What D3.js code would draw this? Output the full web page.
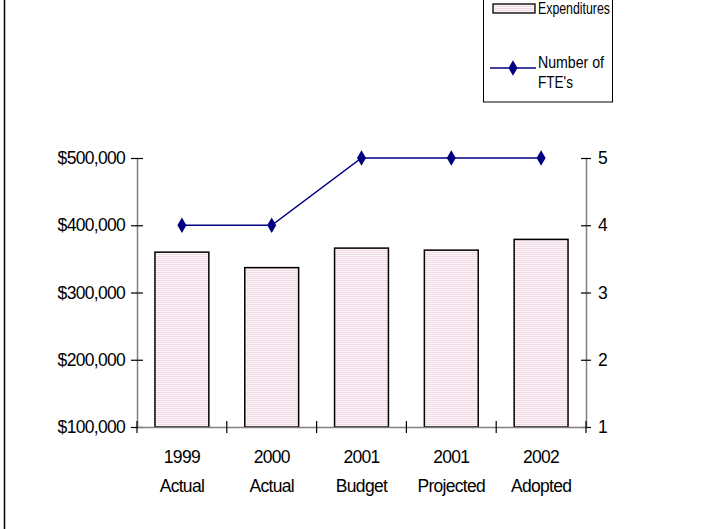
<!DOCTYPE html>
<html><head><meta charset="utf-8">
<script src="https://cdn.jsdelivr.net/npm/d3@7"></script>
<style>body{margin:0;background:#fff}svg{display:block}text{font-family:"Liberation Sans",Arial,sans-serif}</style>
</head><body><svg id="c" width="707" height="529"></svg>
<script>
const categories = ["1999|Actual","2000|Actual","2001|Budget","2001|Projected","2002|Adopted"];
const expenditures = [360000, 337000, 366000, 363000, 379000];
const ftes = [4, 4, 5, 5, 5];
const leftTicks = [100000, 200000, 300000, 400000, 500000];
const rightTicks = [1, 2, 3, 4, 5];

const svg = d3.select("#c");
const defs = svg.append("defs");
const pat = defs.append("pattern").attr("id","hatch").attr("patternUnits","userSpaceOnUse").attr("width",4).attr("height",2);
pat.append("rect").attr("width",4).attr("height",2).attr("fill","#fdf7fa");
pat.append("rect").attr("width",4).attr("height",1).attr("fill","#f0d8e4");

// outer frame
svg.append("rect").attr("x",4.5).attr("y",-10).attr("width",800).attr("height",600).attr("fill","none").attr("stroke","#000").attr("stroke-width",1.5);

const x0 = 137, x1 = 586, yTop = 158, yBot = 427;
const x = d3.scaleBand().domain(categories).range([x0, x1]).paddingInner(0.4).paddingOuter(0.2);
const xc = d3.scaleBand().domain(categories).range([x0, x1]);
const yL = d3.scaleLinear().domain([100000, 500000]).range([yBot, yTop]);
const yR = d3.scaleLinear().domain([1, 5]).range([yBot, yTop]);

// bars
svg.append("g").selectAll("rect").data(categories).join("rect")
  .attr("x", d => x(d)).attr("width", x.bandwidth())
  .attr("y", (d,i) => yL(expenditures[i])).attr("height", (d,i) => yBot - yL(expenditures[i]))
  .attr("fill","url(#hatch)").attr("stroke","#000").attr("stroke-width",1.5);

const fs = 17.5, ls = -0.7;
// left axis
const gL = svg.append("g").attr("transform",`translate(${x0},0)`)
  .call(d3.axisLeft(yL).tickValues(leftTicks).tickSize(0).tickPadding(12).tickFormat(d => "$" + d3.format(",")(d)));
gL.select(".domain").attr("stroke","#808080").attr("stroke-width",1.5);
gL.selectAll(".tick").append("line").attr("x1",-6).attr("x2",6).attr("stroke","#000").attr("stroke-width",1.2);
gL.selectAll("text").attr("font-size",fs).attr("letter-spacing",ls).attr("fill","#000").attr("font-family","Liberation Sans, Arial, sans-serif");

// right axis
const gR = svg.append("g").attr("transform",`translate(${x1},0)`)
  .call(d3.axisRight(yR).tickValues(rightTicks).tickSize(0).tickPadding(12).tickFormat(d3.format("d")));
gR.select(".domain").attr("stroke","#808080").attr("stroke-width",1.5);
gR.selectAll(".tick").append("line").attr("x1",-5).attr("x2",5).attr("stroke","#000").attr("stroke-width",1.2);
gR.selectAll("text").attr("font-size",fs).attr("fill","#000").attr("font-family","Liberation Sans, Arial, sans-serif");

// bottom axis
const gB = svg.append("g").attr("transform",`translate(0,${yBot})`)
  .call(d3.axisBottom(xc).tickSize(0).tickFormat(""));
gB.select(".domain").attr("stroke","#808080").attr("stroke-width",1.5);
gB.selectAll(".tick").remove();
const bounds = categories.map(c => xc(c)).concat([x1]);
gB.selectAll("line.sep").data(bounds).join("line").attr("class","sep")
  .attr("x1", d => d).attr("x2", d => d).attr("y1",-6).attr("y2",6).attr("stroke","#000").attr("stroke-width",1.2);
const lab = gB.selectAll("text.lab").data(categories).join("text").attr("class","lab")
  .attr("text-anchor","middle").attr("font-size",fs).attr("letter-spacing",ls).attr("fill","#000");
lab.append("tspan").attr("x", d => xc(d) + xc.bandwidth()/2).attr("y",36).text(d => d.split("|")[0]);
lab.append("tspan").attr("x", d => xc(d) + xc.bandwidth()/2).attr("y",65).text(d => d.split("|")[1]);

// line
const cx = d => xc(d) + xc.bandwidth()/2;
svg.append("path").datum(categories)
  .attr("d", d3.line().x(d => cx(d)).y((d,i) => yR(ftes[i])))
  .attr("fill","none").attr("stroke","#000080").attr("stroke-width",1.5);
const diamond = d3.symbol().type(d3.symbolDiamond).size(70);
svg.append("g").selectAll("path").data(categories).join("path")
  .attr("transform",(d,i) => `translate(${cx(d)},${yR(ftes[i])})`)
  .attr("d", diamond).attr("fill","#000080");

// legend
const lg = svg.append("g");
lg.append("rect").attr("x",483.5).attr("y",-20).attr("width",129).attr("height",122).attr("fill","#fff").attr("stroke","#000").attr("stroke-width",1);
lg.append("rect").attr("x",493).attr("y",4).attr("width",42).attr("height",9).attr("fill","url(#hatch)").attr("stroke","#000").attr("stroke-width",1.3);
lg.append("text").attr("x",538).attr("y",14).attr("font-size",16).attr("textLength",72).attr("lengthAdjust","spacingAndGlyphs").text("Expenditures");
lg.append("line").attr("x1",490).attr("x2",536).attr("y1",68).attr("y2",68).attr("stroke","#000080").attr("stroke-width",1.5);
lg.append("path").attr("transform","translate(513,68)").attr("d",diamond).attr("fill","#000080");
lg.append("text").attr("x",538).attr("y",68).attr("font-size",16).attr("textLength",66).attr("lengthAdjust","spacingAndGlyphs").text("Number of");
lg.append("text").attr("x",538).attr("y",88).attr("font-size",16).attr("textLength",35).attr("lengthAdjust","spacingAndGlyphs").text("FTE's");
</script></body></html>
